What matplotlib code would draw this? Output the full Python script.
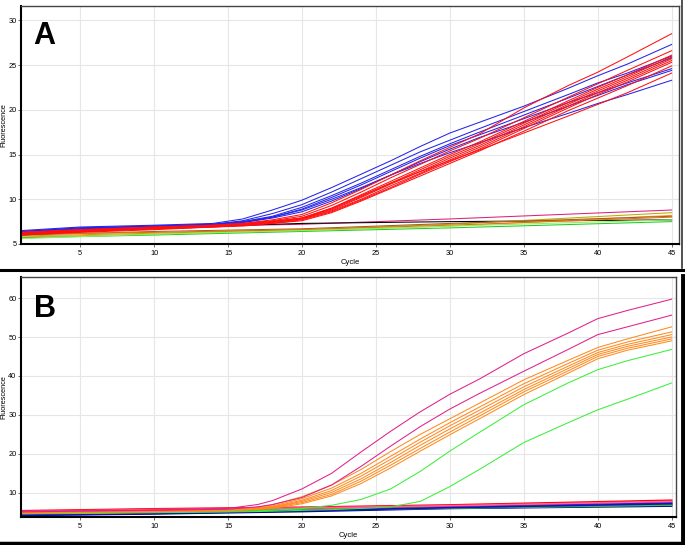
import matplotlib
matplotlib.use("Agg")
import matplotlib.pyplot as plt
from matplotlib.lines import Line2D

# ---------------- Panel A data ----------------
cyc_A = [1, 5, 10, 14, 16, 18, 20, 22, 24, 26, 28, 30, 32, 35, 38, 40, 42, 45]
blue_A1 = [6.5, 6.9, 7.1, 7.3, 7.8, 8.8, 9.9, 11.3, 12.8, 14.3, 15.9, 17.4, 18.6, 20.4, 22.4, 23.8, 25.1, 27.3]
blue_A2 = [6.4, 6.8, 7.0, 7.2, 7.6, 8.4, 9.4, 10.8, 12.3, 13.8, 15.3, 16.6, 17.9, 19.8, 21.7, 23.0, 24.1, 26.0]
blue_A3 = [6.4, 6.8, 7.0, 7.2, 7.5, 8.1, 9.1, 10.4, 11.8, 13.3, 14.8, 16.2, 17.5, 19.4, 21.3, 22.6, 23.9, 25.8]
blue_A4 = [6.3, 6.7, 7.0, 7.2, 7.5, 8.0, 8.9, 10.2, 11.6, 13.1, 14.6, 16.0, 17.2, 19.0, 20.8, 21.9, 23.0, 24.6]
blue_A5 = [6.3, 6.7, 6.9, 7.1, 7.4, 7.9, 8.6, 9.8, 11.2, 12.7, 14.2, 15.6, 16.9, 18.6, 20.4, 21.6, 22.8, 24.4]
blue_A6 = [6.2, 6.6, 6.9, 7.1, 7.4, 8.0, 8.8, 10.0, 11.3, 12.7, 14.0, 15.2, 16.3, 18.0, 19.6, 20.7, 21.7, 23.3]
red_A1 = [6.3, 6.6, 6.9, 7.1, 7.3, 7.7, 8.3, 9.6, 11.1, 12.7, 14.3, 15.8, 17.3, 20.2, 22.7, 24.2, 25.9, 28.5]
red_A2 = [6.3, 6.6, 6.9, 7.1, 7.3, 7.6, 8.1, 9.3, 10.8, 12.4, 13.9, 15.4, 16.8, 19.1, 21.4, 22.9, 24.4, 26.6]
red_A3 = [6.2, 6.5, 6.8, 7.0, 7.2, 7.5, 7.9, 9.0, 10.5, 12.0, 13.5, 15.0, 16.4, 18.7, 21.0, 22.5, 23.9, 26.1]
red_A4 = [6.2, 6.5, 6.8, 7.0, 7.2, 7.5, 7.9, 8.9, 10.3, 11.8, 13.3, 14.8, 16.2, 18.5, 20.8, 22.3, 23.7, 25.9]
red_A5 = [6.1, 6.5, 6.8, 7.0, 7.2, 7.4, 7.8, 8.8, 10.2, 11.7, 13.1, 14.6, 16.0, 18.3, 20.6, 22.1, 23.5, 25.7]
red_A6 = [6.1, 6.4, 6.7, 6.9, 7.1, 7.4, 7.8, 8.7, 10.0, 11.5, 12.9, 14.4, 15.8, 18.1, 20.4, 21.9, 23.3, 25.5]
red_A7 = [6.0, 6.4, 6.7, 6.9, 7.1, 7.3, 7.7, 8.6, 9.9, 11.3, 12.8, 14.2, 15.6, 17.9, 20.2, 21.7, 23.1, 25.3]
red_A8 = [6.0, 6.3, 6.6, 6.9, 7.0, 7.3, 7.6, 8.5, 9.8, 11.2, 12.6, 14.0, 15.4, 17.6, 19.9, 21.3, 22.7, 24.9]
red_A9 = [6.1, 6.4, 6.7, 7.0, 7.2, 7.5, 7.9, 9.0, 10.4, 11.8, 13.1, 14.3, 15.5, 17.4, 19.3, 20.6, 21.9, 24.1]

base_cyc_A = [1, 10, 20, 30, 45]
base_A_pink = [6.3, 6.9, 7.2, 7.8, 8.8]
base_A_black = [6.0, 6.8, 7.3, 7.5, 7.7]
base_A_olive = [5.9, 6.2, 6.6, 7.2, 8.5]
base_A_orange = [5.8, 6.1, 6.5, 7.0, 8.2]
base_A_brown = [6.0, 6.4, 6.7, 7.3, 8.1]
base_A_dkorange = [6.1, 6.3, 6.6, 7.1, 8.0]
base_A_green = [5.7, 6.0, 6.4, 6.8, 7.5]
base_A_ltgreen = [5.6, 6.1, 6.5, 7.0, 7.7]

# ---------------- Panel B data ----------------
cyc_B = [1, 5, 10, 15, 17, 18, 20, 22, 24, 26, 28, 30, 32, 35, 38, 40, 42, 45]
mag_B1 = [5.3, 5.4, 5.6, 6.0, 7.0, 8.0, 11.0, 15.0, 20.5, 25.8, 30.8, 35.3, 39.2, 45.7, 51.0, 54.7, 56.8, 59.7]
mag_B2 = [5.1, 5.3, 5.5, 5.8, 6.4, 7.0, 8.8, 12.0, 16.8, 22.0, 27.0, 31.5, 35.5, 41.2, 46.8, 50.6, 52.6, 55.6]
or_B1 = [5.2, 5.3, 5.5, 5.8, 6.3, 6.9, 9.0, 12.0, 16.0, 20.6, 25.0, 29.0, 33.0, 39.0, 44.0, 47.3, 49.5, 52.6]
or_B2 = [5.0, 5.2, 5.4, 5.7, 6.1, 6.6, 8.5, 11.2, 15.0, 19.4, 23.8, 28.0, 32.0, 38.0, 43.2, 46.6, 48.7, 51.3]
or_B3 = [4.9, 5.1, 5.3, 5.6, 6.0, 6.4, 8.1, 10.6, 14.3, 18.6, 23.0, 27.2, 31.2, 37.2, 42.5, 46.0, 48.1, 50.6]
or_B4 = [4.9, 5.0, 5.2, 5.5, 5.9, 6.3, 7.8, 10.1, 13.6, 17.8, 22.2, 26.4, 30.4, 36.5, 41.9, 45.5, 47.6, 50.0]
or_B5 = [4.8, 5.0, 5.2, 5.5, 5.8, 6.2, 7.5, 9.6, 13.0, 17.1, 21.4, 25.6, 29.7, 35.9, 41.3, 45.0, 47.1, 49.5]
or_B6 = [4.8, 4.9, 5.1, 5.4, 5.7, 6.0, 7.2, 9.2, 12.4, 16.4, 20.7, 24.9, 29.0, 35.2, 40.7, 44.4, 46.6, 49.0]
grn_B1 = [4.7, 4.8, 5.0, 5.2, 5.4, 5.5, 6.0, 6.8, 8.3, 11.0, 15.5, 20.7, 25.5, 32.6, 38.2, 41.6, 43.9, 46.8]
grn_B2 = [4.6, 4.7, 4.9, 5.1, 5.2, 5.3, 5.5, 5.7, 6.0, 6.4, 7.8, 11.6, 16.0, 22.9, 28.0, 31.3, 34.0, 38.2]

base_cyc_B = [1, 10, 20, 30, 45]
base_B_red = [5.4, 5.9, 6.3, 6.9, 8.1]
base_B_crimson = [5.1, 5.6, 6.0, 6.6, 7.7]
base_B_blue = [4.4, 4.8, 5.5, 6.3, 7.4]
base_B_navy = [4.2, 4.6, 5.2, 6.0, 6.6]
base_B_purple = [4.6, 5.1, 5.6, 6.4, 7.1]
base_B_teal = [4.8, 5.4, 5.5, 6.1, 6.8]
base_B_olive = [4.5, 5.0, 5.7, 6.2, 7.0]
base_B_green = [4.9, 5.3, 5.6, 6.1, 6.9]
base_B_pink = [5.2, 5.7, 6.1, 6.7, 7.8]
base_B_dkblue = [4.3, 4.7, 5.4, 6.2, 7.2]

yticks_A = [5, 10, 15, 20, 25, 30]
yticks_B = [10, 20, 30, 40, 50, 60]
xticks = [5, 10, 15, 20, 25, 30, 35, 40, 45]

BLUE = "#2424e8"
RED = "#ff1010"
MAG = "#e0208c"
ORG = "#ff8a1e"
GRN = "#3cee3c"

W, H = 685, 545
fig = plt.figure(figsize=(W / 100, H / 100), dpi=100)
fig.patch.set_facecolor("white")

FAM = ["Liberation Sans Narrow", "Liberation Sans", "DejaVu Sans"]


def style_axes(ax, ylim, yticks, xlim, width_px):
    ax.set_xlim(*xlim)
    ax.set_ylim(*ylim)
    ax.set_xticks(xticks)
    ax.set_yticks(yticks)
    ax.grid(True, color="#e6e6e6", lw=0.8)
    ax.set_axisbelow(True)
    for s in ["left", "bottom"]:
        ax.spines[s].set_color("black")
        ax.spines[s].set_linewidth(1.5)
    for s in ["top", "right"]:
        ax.spines[s].set_color("#444444")
        ax.spines[s].set_linewidth(1.0)
    ax.tick_params(axis="x", length=2.5, width=0.6, pad=2.0, color="#555555")
    ax.tick_params(axis="y", length=2.0, width=0.6, pad=1.2, color="#555555")
    for lab in ax.get_xticklabels() + ax.get_yticklabels():
        lab.set_fontfamily(FAM)
        lab.set_fontsize(5.3)
    ax.set_xlabel("Cycle", fontsize=5.5, family=FAM, labelpad=1)
    ax.set_ylabel("Fluorescence", fontsize=5.3, family=FAM, va="center")
    ax.yaxis.set_label_coords(-(21 - 4.2) / width_px, 0.5)


# Panel A
wA = 679 - 21
axA = fig.add_axes([21 / W, 1 - 244 / H, wA / W, (244 - 6) / H])
lw = 0.75
for col, ys in [("#e0207a", base_A_pink), ("black", base_A_black), ("#b5b000", base_A_olive),
                ("#ff9a30", base_A_orange), ("#a0602a", base_A_brown), ("#e07010", base_A_dkorange),
                ("#22cc22", base_A_green), ("#90ee60", base_A_ltgreen)]:
    axA.plot(base_cyc_A, ys, color=col, lw=lw)
for ys in [blue_A1, blue_A2, blue_A3, blue_A4, blue_A5, blue_A6]:
    axA.plot(cyc_A, ys, color=BLUE, lw=lw)
for ys in [red_A1, red_A2, red_A3, red_A4, red_A5, red_A6, red_A7, red_A8, red_A9]:
    axA.plot(cyc_A, ys, color=RED, lw=lw)
style_axes(axA, (5, 31.6), yticks_A, (1, 45.5), wA)
axA.text(0.018, 0.935, "A", transform=axA.transAxes, ha="left", va="top",
         fontsize=22, fontweight="bold", family=["Liberation Sans", "DejaVu Sans"])

# Panel B
wB = 676 - 21
axB = fig.add_axes([21 / W, 1 - 517 / H, wB / W, (517 - 277) / H])
for col, ys in [("#ff0000", base_B_red), ("#c0103a", base_B_crimson), ("#2020ff", base_B_blue),
                ("#000080", base_B_navy), ("#8020a0", base_B_purple), ("#008080", base_B_teal),
                ("#9a9a10", base_B_olive), ("#40c040", base_B_green), ("#ff60a0", base_B_pink),
                ("#1010c0", base_B_dkblue)]:
    axB.plot(base_cyc_B, ys, color=col, lw=1.2)
for ys in [grn_B1, grn_B2]:
    axB.plot(cyc_B, ys, color=GRN, lw=lw)
for ys in [or_B1, or_B2, or_B3, or_B4, or_B5, or_B6]:
    axB.plot(cyc_B, ys, color=ORG, lw=lw)
for ys in [mag_B1, mag_B2]:
    axB.plot(cyc_B, ys, color=MAG, lw=lw)
style_axes(axB, (3.8, 65.4), yticks_B, (1, 45.3), wB)
axB.text(0.02, 0.93, "B", transform=axB.transAxes, ha="left", va="top",
         fontsize=22, fontweight="bold", family=["Liberation Sans", "DejaVu Sans"])

# panel frames (figure-level decorations)
fig.add_artist(Line2D([0, 1], [1 - 270 / H] * 2, transform=fig.transFigure, color="black", lw=2.2))
fig.add_artist(Line2D([0, 1], [1 - 543 / H] * 2, transform=fig.transFigure, color="black", lw=2.5))
fig.add_artist(Line2D([683 / W] * 2, [0, 1 - 276 / H], transform=fig.transFigure, color="black", lw=3.5))
fig.add_artist(Line2D([682 / W] * 2, [1 - 268 / H, 1], transform=fig.transFigure, color="#333333", lw=1.2))

fig.savefig("out.png", dpi=100, facecolor="white")
